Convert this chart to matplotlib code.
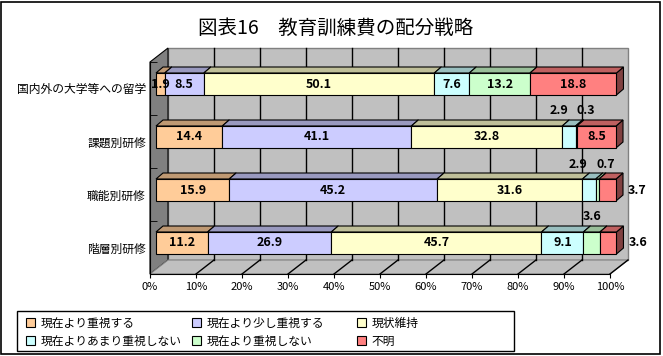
import numpy as np
import matplotlib.pyplot as plt
from matplotlib.patches import Polygon, Rectangle, Patch

plt.rcParams['font.family'] = ['Noto Sans CJK JP', 'DejaVu Sans']

categories = ['国内外の大学等への留学', '課題別研修', '職能別研修', '階層別研修']
series = ['現在より重視する', '現在より少し重視する', '現状維持',
          '現在よりあまり重視しない', '現在より重視しない', '不明']
ryugaku = [1.9, 8.5, 50.1, 7.6, 13.2, 18.8]
kadai = [14.4, 41.1, 32.8, 2.9, 0.3, 8.5]
shokuno = [15.9, 45.2, 31.6, 2.9, 0.7, 3.7]
kaiso = [11.2, 26.9, 45.7, 9.1, 3.6, 3.6]
xticks = [0, 10, 20, 30, 40, 50, 60, 70, 80, 90, 100]
colors = ['#FFCC99', '#CCCCFF', '#FFFFCC', '#CCFFFF', '#CCFFCC', '#FF8080']

# labels that Excel moved off the bar: (row, segment) -> (where, x shift in px)
moved = {(1, 3): ('above', -10), (1, 4): ('above', 10),
         (2, 3): ('above', -11), (2, 4): ('above', 8), (2, 5): ('right', 0),
         (3, 4): ('above', 0), (3, 5): ('right', 0)}

W, H = 663, 356
fig = plt.figure(figsize=(W / 100, H / 100), dpi=100)
ax = fig.add_axes([150 / W, (H - 274) / H, 460 / W, 212 / H])
ax.set_xlim(0, 100)
ax.set_ylim(3.5, -0.5)

ux = 100 / 460   # one pixel in x units
uy = 1 / 53      # one pixel in y units (positive = down)


def shade(c, f):
    r, g, b = [int(c[i:i + 2], 16) / 255 for i in (1, 3, 5)]
    return (r * f, g * f, b * f)


# walls
wdx, wdy = 18 * ux, -14 * uy
ax.add_patch(Rectangle((wdx, -0.5 + wdy), 100, 4, fc='#C0C0C0', ec='#808080', lw=1,
                       zorder=0, clip_on=False))
ax.add_patch(Polygon([(0, -0.5), (wdx, -0.5 + wdy), (wdx, 3.5 + wdy), (0, 3.5)],
                     closed=True, fc='#808080', ec='black', lw=0.8, zorder=1, clip_on=False))
ax.add_patch(Polygon([(0, 3.5), (wdx, 3.5 + wdy), (100 + wdx, 3.5 + wdy), (100, 3.5)],
                     closed=True, fc='#C0C0C0', ec='#808080', lw=0.8, zorder=1, clip_on=False))
for k in xticks[1:-1]:
    ax.plot([k + wdx, k + wdx], [-0.5 + wdy, 3.5 + wdy], color='black', lw=1, zorder=1, clip_on=False)
for k in xticks[1:]:
    ax.plot([k, k + wdx], [3.5, 3.5 + wdy], color='black', lw=1, zorder=2, clip_on=False)

# bars
rows = [ryugaku, kadai, shokuno, kaiso]
bx, by = 6 * ux, -4.5 * uy
hh = 11 * uy
ddx, ddy = 7 * ux, -6 * uy
for i, vals in enumerate(rows):
    yc = i + by
    left = np.concatenate([[0], np.cumsum(vals)[:-1]])
    for j, (l, v) in enumerate(zip(left, vals)):
        x0, x1 = l + bx, l + v + bx
        top, bot = yc - hh, yc + hh
        ax.add_patch(Polygon([(x1, top), (x1, bot), (x1 + ddx, bot + ddy), (x1 + ddx, top + ddy)],
                             closed=True, fc=shade(colors[j], 0.5), ec='black', lw=0.8,
                             zorder=3, clip_on=False))
        ax.add_patch(Polygon([(x0, top), (x1, top), (x1 + ddx, top + ddy), (x0 + ddx, top + ddy)],
                             closed=True, fc=shade(colors[j], 0.75), ec='black', lw=0.8,
                             zorder=3, clip_on=False))
        ax.add_patch(Rectangle((x0, top), v, 2 * hh, fc=colors[j], ec='black', lw=0.8,
                               zorder=3, clip_on=False))
        where, shift = moved.get((i, j), ('center', 0))
        if where == 'center':
            tx, ty, ha = (x0 + x1) / 2, yc, 'center'
        elif where == 'above':
            tx, ty, ha = (x0 + x1) / 2 + shift * ux, yc - 26 * uy, 'center'
        else:
            tx, ty, ha = x1 + ddx + 5 * ux, yc, 'left'
        ax.text(tx, ty, f'{v:.1f}', ha=ha, va='center', fontsize=9,
                fontweight='bold', zorder=5, clip_on=False)

# axes, ticks
for s in ['top', 'right']:
    ax.spines[s].set_visible(False)
ax.spines['left'].set_zorder(4)
ax.spines['bottom'].set_zorder(4)
ax.set_xticks(xticks, [f'{k}%' for k in xticks], fontsize=8)
ax.set_yticks(range(4), categories, fontsize=8.5)
ax.set_yticks([-0.5, 0.5, 1.5, 2.5, 3.5], minor=True)
ax.tick_params(axis='y', which='major', length=0, pad=3)
ax.tick_params(axis='y', which='minor', direction='in', length=5)
ax.tick_params(axis='x', which='major', length=3, pad=3)
ax.set_facecolor('none')

fig.text(336 / W, 1 - 28 / H, '図表16　教育訓練費の配分戦略', ha='center', va='center', fontsize=14)

# legend: three columns placed like the original, one frame round them
handles = [Patch(fc=c, ec='black', lw=0.8, label=s) for c, s in zip(colors, series)]
col_x = [26, 192, 357]
for c, k in enumerate(range(3)):
    leg = fig.legend([handles[k], handles[k + 3]], [series[k], series[k + 3]],
                     loc='center left', bbox_to_anchor=(col_x[c] / W, 1 - 332 / H),
                     frameon=False, fontsize=8.5, handlelength=0.8, handleheight=0.8,
                     handletextpad=0.4, labelspacing=0.45, borderpad=0, borderaxespad=0)
fig.patches.append(Rectangle((17 / W, 1 - 351 / H), 497 / W, 40 / H, transform=fig.transFigure,
                             fill=False, ec='black', lw=1))

fig.patches.append(Rectangle((1 / W, 2 / H), 659 / W, 352 / H, transform=fig.transFigure,
                             fill=False, ec='black', lw=1.2))

fig.savefig('out.png', dpi=100)
